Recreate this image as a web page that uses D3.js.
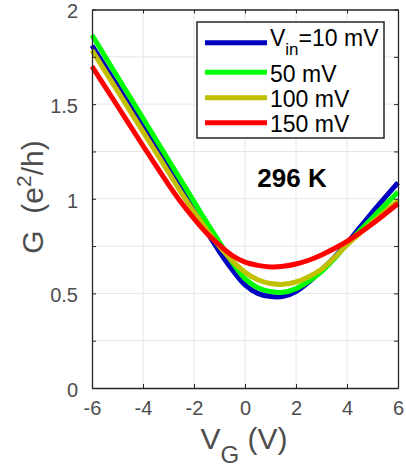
<!DOCTYPE html>
<html><head><meta charset="utf-8">
<script src="https://cdn.jsdelivr.net/npm/d3@7"></script>
<style>
html,body{margin:0;padding:0;background:#fff;}
svg{display:block;font-family:"Liberation Sans",Arial,Helvetica,sans-serif;}
</style></head>
<body><svg id="c" width="406" height="470"></svg>
<script>
const vg = [-6,-5,-4,-3,-2.5,-2,-1.5,-1,-0.5,0,0.5,1,1.5,2,2.5,3,3.5,4,5,6];
const g10  = [1.81,1.595,1.38,1.165,1.05,0.935,0.825,0.72,0.625,0.545,0.50,0.483,0.484,0.51,0.56,0.623,0.69,0.765,0.93,1.085];
const g50  = [1.865,1.645,1.425,1.205,1.095,0.985,0.875,0.77,0.665,0.578,0.53,0.51,0.506,0.525,0.565,0.615,0.683,0.76,0.90,1.035];
const g100 = [1.785,1.57,1.355,1.14,1.032,0.93,0.835,0.748,0.672,0.612,0.572,0.552,0.548,0.56,0.588,0.628,0.688,0.756,0.875,0.99];
const g150 = [1.70,1.49,1.28,1.075,0.98,0.895,0.818,0.755,0.70,0.665,0.648,0.64,0.643,0.655,0.675,0.703,0.737,0.775,0.868,0.975];
const seriesNames = ["=10 mV","50 mV","100 mV","150 mV"];
const seriesColors = ["#0000c0","#00ff00","#c0c000","#ff0000"];
const xTicks = [-6,-4,-2,0,2,4,6];
const yTicks = [0,0.25,0.5,0.75,1,1.25,1.5,1.75,2];
const yLabels = [0,0.5,1,1.5,2];

const svg = d3.select("#c");
const L=92, R=398, T=9.5, B=388;
const x = d3.scaleLinear().domain([-6,6]).range([L,R]);
const y = d3.scaleLinear().domain([0,2]).range([B,T]);
const axisCol = "#262626", labCol = "#4d4d4d";

// grid
svg.append("g").selectAll("line").data(xTicks.slice(1,-1)).join("line")
  .attr("x1",d=>x(d)).attr("x2",d=>x(d)).attr("y1",T).attr("y2",B)
  .attr("stroke","#e3e6e8").attr("stroke-width",1);
svg.append("g").selectAll("line").data(yTicks.slice(1,-1)).join("line")
  .attr("y1",d=>y(d)).attr("y2",d=>y(d)).attr("x1",L).attr("x2",R)
  .attr("stroke","#e3e6e8").attr("stroke-width",1);

// data
const allG = [g10,g50,g100,g150];
const line = d3.line().x(d=>x(d[0])).y(d=>y(d[1])).curve(d3.curveCatmullRom.alpha(0.5));
allG.forEach((s,i)=>{
  svg.append("path").datum(vg.map((v,j)=>[v,s[j]]))
    .attr("d",line).attr("fill","none").attr("stroke",seriesColors[i])
    .attr("stroke-width",5).attr("stroke-linejoin","round");
});

// axes
const xAxB = svg.append("g").attr("transform",`translate(0,${B})`)
  .call(d3.axisBottom(x).tickValues(xTicks).tickSizeInner(-4).tickSizeOuter(0).tickPadding(13).tickFormat(d=>String(d)));
const xAxT = svg.append("g").attr("transform",`translate(0,${T})`)
  .call(d3.axisTop(x).tickValues(xTicks).tickSizeInner(-4).tickSizeOuter(0).tickFormat(""));
const yAxL = svg.append("g").attr("transform",`translate(${L},0)`)
  .call(d3.axisLeft(y).tickValues(yTicks).tickSizeInner(-4).tickSizeOuter(0).tickPadding(14)
    .tickFormat(d=>yLabels.includes(d)?String(d):""));
const yAxR = svg.append("g").attr("transform",`translate(${R},0)`)
  .call(d3.axisRight(y).tickValues(yTicks).tickSizeInner(-4).tickSizeOuter(0).tickFormat(""));
[xAxB,xAxT,yAxL,yAxR].forEach(a=>{
  a.select(".domain").attr("stroke",axisCol).attr("stroke-width",1.3);
  a.selectAll(".tick line").attr("stroke",axisCol).attr("stroke-width",1);
  a.selectAll("text").attr("fill",labCol).attr("font-size",20)
   .attr("font-family",'"Liberation Sans",Arial,sans-serif');
});
xAxB.selectAll("text").attr("dy","0.71em");
yAxL.selectAll("text").attr("dy","0.42em");

// axis labels
const xl = svg.append("text").attr("x",244).attr("y",449).attr("text-anchor","middle")
  .attr("fill",labCol).attr("font-size",30);
xl.append("tspan").text("V");
xl.append("tspan").attr("font-size",24).attr("dy",14).text("G");
xl.append("tspan").attr("dy",-14).text(" (V)");

const yl = svg.append("text").attr("transform","translate(43,197) rotate(-90)")
  .attr("text-anchor","middle").attr("fill",labCol).attr("font-size",30)
  .style("white-space","pre");
yl.append("tspan").text("G\u00a0\u00a0(e");
yl.append("tspan").attr("font-size",21).attr("dy",-12).text("2");
yl.append("tspan").attr("dy",12).text("/h)");

// annotation
svg.append("text").attr("x",292).attr("y",187).attr("text-anchor","middle")
  .attr("font-size",26).attr("font-weight","bold").attr("fill","#000").text("296 K");

// legend
const lg = svg.append("g");
lg.append("rect").attr("x",197).attr("y",22).attr("width",187).attr("height",116)
  .attr("fill","#fff").attr("stroke","#262626").attr("stroke-width",1.5);
const ly = [42.7,72.3,97.7,122.7];
const ty = [46,81.5,106.5,131.5];
seriesNames.forEach((n,i)=>{
  lg.append("line").attr("x1",205).attr("x2",267).attr("y1",ly[i]).attr("y2",ly[i])
    .attr("stroke",seriesColors[i]).attr("stroke-width",5);
  const t = lg.append("text").attr("x",270).attr("y",ty[i]).attr("font-size",23).attr("fill","#000");
  if(i===0){
    t.append("tspan").text("V");
    t.append("tspan").attr("font-size",17).attr("dy",9).text("in");
    t.append("tspan").attr("dy",-9).text(n);
  } else t.text(n);
});
</script></body></html>
